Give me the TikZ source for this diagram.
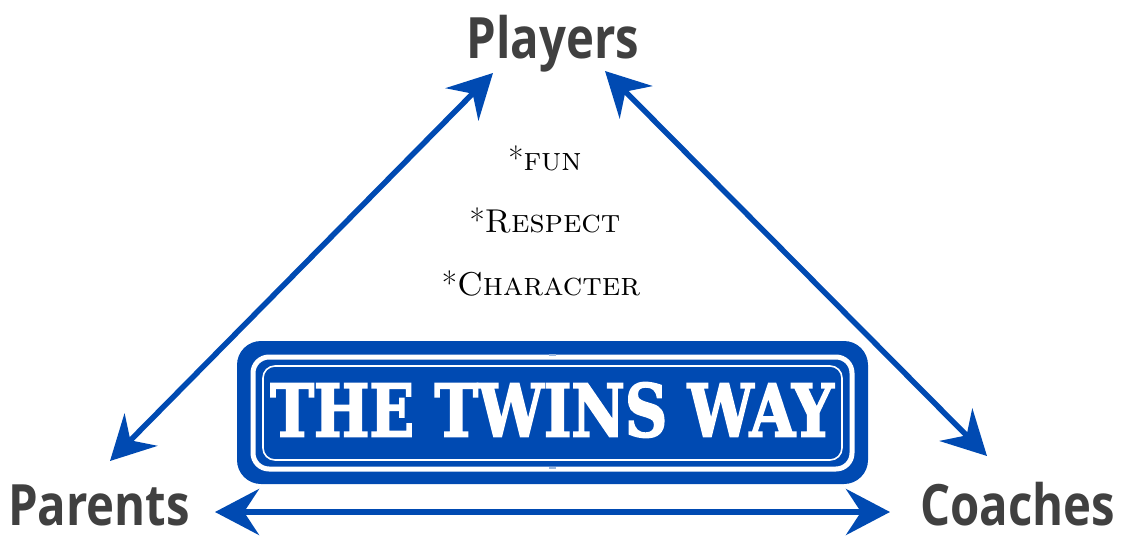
\documentclass[tikz,border=0pt]{standalone}
\usepackage{fontspec}
\usetikzlibrary{arrows.meta}
\newfontfamily\labelfont{Open Sans}
\newfontfamily\signfont[FakeBold=2.5]{DejaVu Serif Condensed}
\definecolor{twinsblue}{RGB}{0,74,178}
\definecolor{labelgray}{RGB}{64,64,64}
\newcommand{\cornertext}[1]{\scalebox{0.83}[1]{\labelfont\bfseries\fontsize{57}{60}\selectfont #1}}
\tikzset{
  biarrow/.style={draw=twinsblue, line width=5.5pt,
    {Stealth[length=44pt,width=46pt,inset=15pt]}-{Stealth[length=44pt,width=46pt,inset=15pt]}},
  corner/.style={text=labelgray, anchor=base, inner sep=0pt},
  value/.style={font=\fontsize{33}{38}\selectfont, anchor=base, inner sep=0pt}
}
\begin{document}
\begin{tikzpicture}[x=1pt,y=-1pt]
\useasboundingbox (0,0) rectangle (1122,536);
% labels
\node[corner] (players) at (553,58) {\cornertext{Players}};
\node[corner] (parents) at (99,525) {\cornertext{Parents}};
\node[corner] (coaches) at (1018,525) {\cornertext{Coaches}};
% values
\node[value] (fun) at (545,170) {*\textsc{fun}};
\node[value] (respect) at (545,232) {*\textsc{Respect}};
\node[value] (character) at (541,295) {*\textsc{Character}};
% sign
\node[draw=none, fill=twinsblue, rounded corners=24pt, minimum width=631pt, minimum height=143pt, inner sep=0pt] (sign) at (552.5,412.5) {};
\draw[white, line width=5pt, rounded corners=16pt] (253,357) rectangle (852,469);
\draw[white, line width=1.6pt, rounded corners=12pt] (263,366) rectangle (842,460);
\draw[white!60!twinsblue, line width=2.5pt] (549,355) -- (556,355);
\draw[white!60!twinsblue, line width=2.5pt] (549,468) -- (556,468);
\node[text=white, inner sep=0pt] (title) at (552,410) {\resizebox{563pt}{54pt}{\signfont\bfseries THE TWINS WAY}};
% arrows
\coordinate (pl) at (493,73);
\coordinate (pr) at (605,71);
\coordinate (pa) at (110,461);
\coordinate (co) at (987,456);
\coordinate (bl) at (215,512);
\coordinate (br) at (890,512);
\draw[biarrow] (pa) -- (pl);
\draw[biarrow] (pr) -- (co);
\draw[biarrow] (bl) -- (br);
\end{tikzpicture}
\end{document}
